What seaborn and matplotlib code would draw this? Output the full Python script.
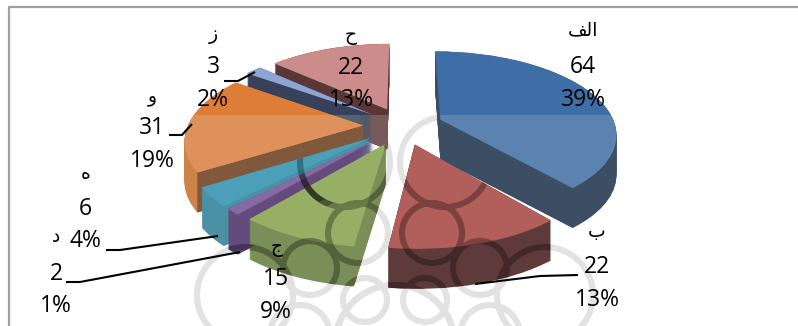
import numpy as np
import matplotlib
matplotlib.use("Agg")
import matplotlib.pyplot as plt
import seaborn as sns
from matplotlib.patches import Circle, PathPatch, Polygon, Rectangle
from matplotlib.path import Path
from matplotlib.transforms import Affine2D, Transform

# Slice names (presentation forms, since matplotlib does not shape Arabic script)
categories = ["\uFED2\uFEDF\uFE8D", "ب", "ج", "د", "ه", "و", "ز", "ح"]
values = [64, 22, 15, 2, 6, 31, 3, 22]

top_colors = ["#3E6EA5", "#B25E5A", "#96AF64", "#8769A5", "#4BA0B9", "#DE7D37", "#8CA5D2", "#CD8C8C"]
top_lower = ["#5C82AF", None, None, None, None, "#DE915A", "#8CA5D2", None]
wall_colors = ["#3C4E64", "#5F3A3A", "#7A8E58", "#644B7D", "#4B91A5", "#CD8246", "#37415A", "#5A3737"]
wall_lower = [None, None, None, None, None, None, "#556473", "#785A5A"]
cut_face = [None, None, None, None, None, "#80593C", None, None]
paint_order = [7, 6, 5, 0, 4, 3, 2, 1]

sns.set_theme(style="white")
plt.rcParams["font.family"] = ["Open Sans", "DejaVu Sans"]


class TiltedPie(Transform):
    """Projects unit-pie coordinates onto a tilted plane, nearer edge larger."""
    input_dims = 2
    output_dims = 2

    def __init__(self, cx, cy, rx, ry, k, drop=0.0):
        super().__init__()
        self.cx, self.cy, self.rx, self.ry, self.k, self.drop = cx, cy, rx, ry, k, drop

    def transform_non_affine(self, xy):
        xy = np.asarray(xy, dtype=float)
        f = 1.0 / (1.0 + self.k * xy[:, 1])
        return np.column_stack([self.cx + self.rx * xy[:, 0] * f,
                                self.cy - self.ry * xy[:, 1] * f + self.drop])


def tilt(drop=0.0):
    return TiltedPie(403, 126, 175, 81, 0.16, drop)


fig = plt.figure(figsize=(7.98, 3.26), dpi=100)
ax = fig.add_axes([0, 0, 1, 1])
wedges, _ = ax.pie(values, startangle=90, counterclock=False,
                   explode=[0.23] * len(values), colors=sns.color_palette(top_colors))
ax.set_aspect("auto")
ax.set_xlim(0, 798)
ax.set_ylim(326, 0)
ax.set_axis_off()

DEPTH = 40
lower_band = Rectangle((0, 115), 798, 211, transform=ax.transData)

for rank, i in enumerate(paint_order):
    w = wedges[i]
    base = 10 + rank
    path = w.get_path()
    for d in range(DEPTH + 1):
        wall = PathPatch(path, fc=wall_colors[i], lw=0, zorder=base,
                         transform=tilt(d) + ax.transData)
        ax.add_patch(wall)
        if wall_lower[i]:
            lit = PathPatch(path, fc=wall_lower[i], lw=0, zorder=base + 0.1,
                            transform=tilt(d) + ax.transData)
            ax.add_patch(lit)
            lit.set_clip_path(lower_band)
    if cut_face[i]:
        # Straight cut side of the slice, darker than its rounded rim
        cx0, cy0 = w.center
        end = (cx0 + w.r * np.cos(np.radians(w.theta2)), cy0 + w.r * np.sin(np.radians(w.theta2)))
        a, b = tilt().transform(np.array([[cx0, cy0], end]))
        quad = Polygon([a, b, b + [0, DEPTH], a + [0, DEPTH]], fc=cut_face[i], lw=0,
                       zorder=base + 0.2, transform=ax.transData)
        ax.add_patch(quad)
    w.set_transform(tilt() + ax.transData)
    w.set_zorder(base + 0.5)
    w.set_linewidth(0)
    if top_lower[i]:
        lit = PathPatch(path, fc=top_lower[i], lw=0, zorder=base + 0.6,
                        transform=tilt() + ax.transData)
        ax.add_patch(lit)
        lit.set_clip_path(lower_band)

# Seal printed behind the chart: interlaced rings, symmetric about its axis
AXIS = 395
rings = [(37, 233, 30), (85, 268, 27), (50, 162, 45), (150, 295, 48), (30, 300, 22),
         (0, 345, 60), (95, 335, 30)]
ring_paths = []
for dx, y, r in rings:
    for side in (-1, 1):
        ring_paths.append(Circle((AXIS + side * dx, y), r).get_path()
                          .transformed(Affine2D().scale(r).translate(AXIS + side * dx, y)))
seal = Path.make_compound_path(*ring_paths)
ax.add_patch(PathPatch(seal, fc="none", ec="#E2E2E2", lw=4.4, zorder=2))

# The seal also shows through the slices nearest the viewer
for i in (1, 2, 3, 4):
    parts = [tilt(d).transform_path(wedges[i].get_path()) for d in range(DEPTH + 1)]
    shade = PathPatch(seal, fc="none", ec="black", lw=4.4, alpha=0.3, zorder=30)
    ax.add_patch(shade)
    shade.set_clip_path(Path.make_compound_path(*parts), ax.transData)

# Leader lines from the outer labels to their slices
leaders = [([224, 238, 255], [81, 81, 72]),
           ([169, 182, 192], [135, 135, 124]),
           ([106, 120, 218], [250, 250, 236]),
           ([66, 80, 240], [282, 282, 252]),
           ([578, 540, 475], [275, 276, 284])]
for xs, ys in leaders:
    ax.plot(xs, ys, color="black", lw=1.5, zorder=40, solid_capstyle="butt")

# Chart-area border, top and left only
ax.plot([9, 9, 798], [326, 7, 7], color="#A0A0A0", lw=1.6, zorder=1)

# Three-line labels: name, count, share
label_x = [583, 597, 276, 56, 85, 152, 213, 351]
name_x = [583, 597, 277, 56, 86, 152, 213, 351]
name_y = [30, 232, 248, 237, 174, 97, 35, 36]
value_y = [67, 267, 279, 274, 209, 128, 67, 68]
share_y = [100, 300, 312, 306, 241, 161, 100, 100]
total = sum(values)
for i, (name, v) in enumerate(zip(categories, values)):
    ax.text(name_x[i], name_y[i], name, ha="center", va="center", fontsize=13.5,
            color="black", zorder=50)
    ax.text(label_x[i], value_y[i], str(v), ha="center", va="center", fontsize=16.5,
            color="black", zorder=50)
    ax.text(label_x[i], share_y[i], f"{round(100 * v / total)}%", ha="center", va="center",
            fontsize=16.5, color="black", zorder=50)

fig.savefig("out.png", dpi=100, facecolor="white")
